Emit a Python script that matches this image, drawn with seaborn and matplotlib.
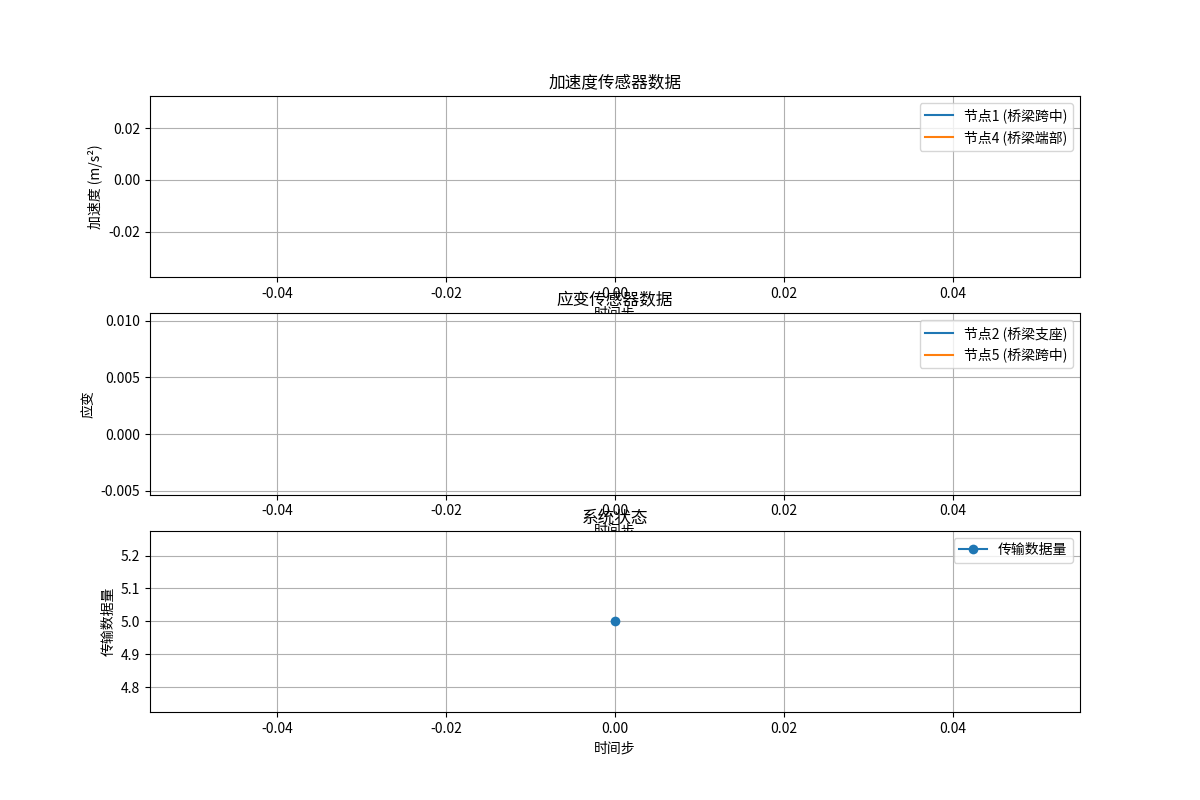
import matplotlib
matplotlib.use("Agg")
import matplotlib.pyplot as plt
import seaborn as sns

plt.rcParams['font.family'] = ['Noto Sans CJK SC', 'DejaVu Sans']
plt.rcParams['axes.unicode_minus'] = False

# one time step only
time_steps = [0]
accel_node1 = [0.0292]    # 节点1 (桥梁跨中)
accel_node4 = [-0.0344]   # 节点4 (桥梁端部)
strain_node2 = [0.0099]   # 节点2 (桥梁支座)
strain_node5 = [-0.0046]  # 节点5 (桥梁跨中)
data_volume = [5]

fig, axes = plt.subplots(3, 1, figsize=(12, 8))

ax = axes[0]
sns.lineplot(x=time_steps, y=accel_node1, ax=ax, label='节点1 (桥梁跨中)')
sns.lineplot(x=time_steps, y=accel_node4, ax=ax, label='节点4 (桥梁端部)')
ax.set_title('加速度传感器数据')
ax.set_xlabel('时间步')
ax.set_ylabel('加速度 (m/s²)')
ax.legend(loc='upper right')
ax.grid(True)

ax = axes[1]
sns.lineplot(x=time_steps, y=strain_node2, ax=ax, label='节点2 (桥梁支座)')
sns.lineplot(x=time_steps, y=strain_node5, ax=ax, label='节点5 (桥梁跨中)')
ax.set_title('应变传感器数据')
ax.set_xlabel('时间步')
ax.set_ylabel('应变')
ax.legend(loc='upper right')
ax.grid(True)

ax = axes[2]
sns.lineplot(x=time_steps, y=data_volume, ax=ax, marker='o', markersize=7,
             markeredgewidth=0, label='传输数据量')
ax.set_title('系统状态')
ax.set_xlabel('时间步')
ax.set_ylabel('传输数据量')
ax.legend(loc='upper right')
ax.grid(True)

plt.savefig('out.png', dpi=100)
